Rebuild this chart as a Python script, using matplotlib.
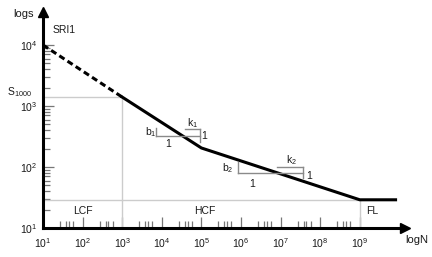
"""
S-N curve schematic (log-log) with LCF / HCF / FL regions
"""

import matplotlib
matplotlib.use('Agg')
import matplotlib.pyplot as plt
from matplotlib.ticker import LogLocator, FixedLocator, NullFormatter
import numpy as np

plt.rcParams['font.family'] = ['Liberation Sans', 'DejaVu Sans']
plt.rcParams['mathtext.fontset'] = 'custom'
plt.rcParams['mathtext.rm'] = 'Liberation Sans'
plt.rcParams['mathtext.it'] = 'Liberation Sans:italic'

# curve values
N_dash = [1e1, 1e3]
S_dash = [1e4, 1400]
N_solid = [1e3, 1e5, 1e9, 8e9]
S_solid = [1400, 205, 29, 29]

S1000 = 1400
N_S1000 = 1e3
S_FL = 29
N_FL = 1e9

# slope triangles (in log10 units)
tri1_x = [3.85, 4.96]
tri1_y = [2.51, 2.62, 2.41]    # bottom, top, right-bottom
tri1_top_x = 4.59
tri1_left_top = 2.64
tri2_x = [5.92, 7.57]
tri2_y = [1.90, 2.00, 1.82]
tri2_top_x = 6.91
tri2_left_top = 2.08

x_decades = list(range(1, 10))
y_decades = list(range(1, 5))

fig = plt.figure(figsize=(4.32, 2.57), dpi=100)
ax = fig.add_axes([43/432, 29/257, 362/432, 216/257])
ax.set_xscale('log')
ax.set_yscale('log')
ax.set_xlim(10**1, 10**(1 + 362/39.6))
ax.set_ylim(10**1, 10**(1 + 216/61))

gray = '#cccccc'
# guide lines
ax.plot([10, N_S1000], [S1000, S1000], color=gray, lw=1.0)
ax.plot([N_S1000, N_S1000], [10, S1000], color=gray, lw=1.0)
ax.plot([10, N_FL], [S_FL, S_FL], color=gray, lw=1.0)
ax.plot([N_FL, N_FL], [10, S_FL], color=gray, lw=1.0)

# S-N curve
ax.plot(N_dash, S_dash, color='black', lw=2.2, ls=(0, (2, 1.2)))
ax.plot(N_solid, S_solid, color='black', lw=2.2, solid_joinstyle='round')

# slope triangles
tc = '#8a8a8a'
for tx, ty, top_x, left_top in [(tri1_x, tri1_y, tri1_top_x, tri1_left_top),
                                (tri2_x, tri2_y, tri2_top_x, tri2_left_top)]:
    x0, x1 = 10**tx[0], 10**tx[1]
    yb, yt, yr = 10**ty[0], 10**ty[1], 10**ty[2]
    ax.plot([x0, x0], [10**left_top, yb], color=tc, lw=1.0)
    ax.plot([x0, x1], [yb, yb], color=tc, lw=1.0)
    ax.plot([10**top_x, x1], [yt, yt], color=tc, lw=1.0)
    ax.plot([x1, x1], [yt, yr], color=tc, lw=1.0)

tk = dict(fontsize=7.5, color='#1a1a1a')
ax.text(10**3.72, 10**2.58, '$\\mathregular{b_1}$', ha='center', va='center', **tk)
ax.text(10**4.78, 10**2.72, '$\\mathregular{k_1}$', ha='center', va='center', **tk)
ax.text(10**5.08, 10**2.51, '1', ha='center', va='center', **tk)
ax.text(10**4.16, 10**2.38, '1', ha='center', va='center', **tk)
ax.text(10**5.66, 10**1.98, '$\\mathregular{b_2}$', ha='center', va='center', **tk)
ax.text(10**7.27, 10**2.12, '$\\mathregular{k_2}$', ha='center', va='center', **tk)
ax.text(10**7.72, 10**1.86, '1', ha='center', va='center', **tk)
ax.text(10**6.27, 10**1.72, '1', ha='center', va='center', **tk)

ax.text(10**2.0, 10**1.28, 'LCF', ha='center', va='center', **tk)
ax.text(10**5.08, 10**1.28, 'HCF', ha='center', va='center', **tk)
ax.text(10**9.32, 10**1.28, 'FL', ha='center', va='center', **tk)
ax.text(10**1.25, 10**4.25, 'SRI1', ha='left', va='center', **tk)
ax.text(-0.065, 10**3.22, '$\\mathregular{S_{1000}}$', ha='center', va='center',
        transform=ax.get_yaxis_transform(), **tk)

fig.text(23/432, 1 - 14/257, 'logs', ha='center', va='center', fontsize=8, color='#1a1a1a')
fig.text(417/432, 1 - 240/257, 'logN', ha='center', va='center', fontsize=8, color='#1a1a1a')

# axes styling
for s in ['top', 'right']:
    ax.spines[s].set_visible(False)
for s in ['left', 'bottom']:
    ax.spines[s].set_linewidth(2.2)
ax.plot(1, 0, marker='>', color='black', ms=7, transform=ax.transAxes, clip_on=False)
ax.plot(0, 1, marker='^', color='black', ms=7, transform=ax.transAxes, clip_on=False)

ax.xaxis.set_major_locator(FixedLocator([10.0**d for d in x_decades]))
ax.yaxis.set_major_locator(FixedLocator([10.0**d for d in y_decades]))
xminor = [s * 10.0**d for d in x_decades[:-1] for s in (2.7, 3.8, 4.5, 5.7)]
yminor = [s * 10.0**d for d in y_decades[:-1] for s in range(2, 10)]
ax.xaxis.set_minor_locator(FixedLocator(xminor))
ax.yaxis.set_minor_locator(FixedLocator(yminor))
ax.xaxis.set_minor_formatter(NullFormatter())
ax.yaxis.set_minor_formatter(NullFormatter())
ax.set_xticklabels(['$\\mathregular{10^{%d}}$' % d for d in x_decades])
ax.set_yticklabels(['$\\mathregular{10^{%d}}$' % d for d in y_decades])

ax.tick_params(axis='both', which='major', direction='in', length=8, width=0.9,
               color='#777777', labelsize=7.5, labelcolor='#1a1a1a')
ax.tick_params(axis='both', which='minor', direction='in', length=5, width=0.9,
               color='#777777')
ax.tick_params(axis='x', pad=6)
ax.tick_params(axis='y', pad=4)

plt.savefig('out.png', dpi=100)
plt.close()
